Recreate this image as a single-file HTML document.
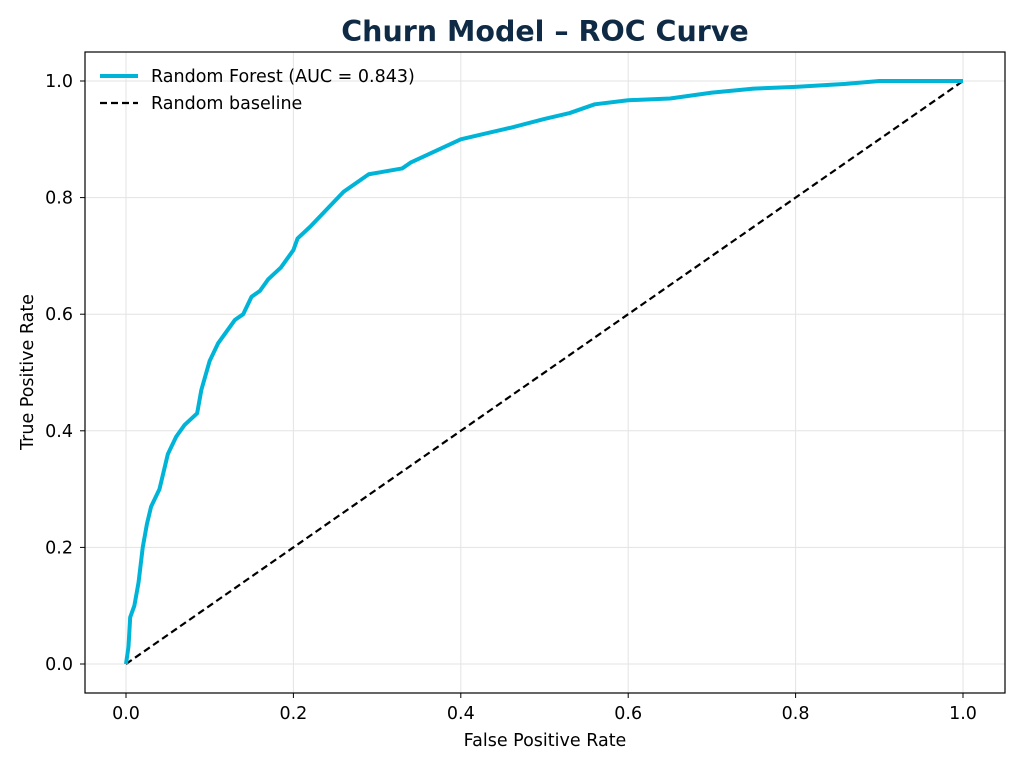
<!DOCTYPE html>
<html><head><meta charset="utf-8"><style>
body{margin:0;background:#fff;}
text{font-family:"DejaVu Sans","Liberation Sans",sans-serif;}
</style></head><body>
<svg width="1024" height="768" viewBox="0 0 1024 768" xmlns="http://www.w3.org/2000/svg">
<rect width="1024" height="768" fill="#fff"/>
<text x="545" y="41" text-anchor="middle" font-size="28.5" font-weight="bold" fill="#0f2a44">Churn Model – ROC Curve</text>
<g stroke="#e3e3e3" stroke-width="1">
<line x1="126" y1="52" x2="126" y2="693"/><line x1="293.4" y1="52" x2="293.4" y2="693"/><line x1="460.8" y1="52" x2="460.8" y2="693"/><line x1="628.2" y1="52" x2="628.2" y2="693"/><line x1="795.6" y1="52" x2="795.6" y2="693"/><line x1="963" y1="52" x2="963" y2="693"/>
<line x1="85" y1="664" x2="1005" y2="664"/><line x1="85" y1="547.4" x2="1005" y2="547.4"/><line x1="85" y1="430.8" x2="1005" y2="430.8"/><line x1="85" y1="314.2" x2="1005" y2="314.2"/><line x1="85" y1="197.6" x2="1005" y2="197.6"/><line x1="85" y1="81" x2="1005" y2="81"/>
</g>
<line x1="126" y1="664" x2="963" y2="81" stroke="#000" stroke-width="2.2" stroke-dasharray="7,4"/>
<g transform="translate(126,664) scale(837,-583)">
<polyline fill="none" stroke="#00b4d8" stroke-width="4" vector-effect="non-scaling-stroke" stroke-linejoin="round" points="0,0 0.003,0.03 0.005,0.08 0.01,0.1 0.015,0.14 0.02,0.2 0.025,0.24 0.03,0.27 0.04,0.3 0.045,0.33 0.05,0.36 0.06,0.39 0.07,0.41 0.085,0.43 0.09,0.47 0.1,0.52 0.11,0.55 0.12,0.57 0.13,0.59 0.14,0.6 0.15,0.63 0.16,0.64 0.17,0.66 0.185,0.68 0.2,0.71 0.205,0.73 0.22,0.75 0.24,0.78 0.26,0.81 0.29,0.84 0.33,0.85 0.34,0.86 0.37,0.88 0.4,0.9 0.43,0.91 0.46,0.92 0.5,0.935 0.53,0.945 0.56,0.96 0.6,0.967 0.65,0.97 0.7,0.98 0.75,0.987 0.8,0.99 0.86,0.995 0.9,1 1,1"/>
</g>
<rect x="85" y="52" width="920" height="641" fill="none" stroke="#000" stroke-width="1.2"/>
<g stroke="#000" stroke-width="1">
<line x1="126" y1="693" x2="126" y2="698"/><line x1="293.4" y1="693" x2="293.4" y2="698"/><line x1="460.8" y1="693" x2="460.8" y2="698"/><line x1="628.2" y1="693" x2="628.2" y2="698"/><line x1="795.6" y1="693" x2="795.6" y2="698"/><line x1="963" y1="693" x2="963" y2="698"/>
<line x1="80" y1="664" x2="85" y2="664"/><line x1="80" y1="547.4" x2="85" y2="547.4"/><line x1="80" y1="430.8" x2="85" y2="430.8"/><line x1="80" y1="314.2" x2="85" y2="314.2"/><line x1="80" y1="197.6" x2="85" y2="197.6"/><line x1="80" y1="81" x2="85" y2="81"/>
</g>
<g font-size="17.5" fill="#000" text-anchor="middle">
<text x="126" y="719">0.0</text><text x="293.4" y="719">0.2</text><text x="460.8" y="719">0.4</text><text x="628.2" y="719">0.6</text><text x="795.6" y="719">0.8</text><text x="963" y="719">1.0</text>
</g>
<g font-size="17.5" fill="#000" text-anchor="end">
<text x="73" y="670">0.0</text><text x="73" y="553.4">0.2</text><text x="73" y="436.8">0.4</text><text x="73" y="320.2">0.6</text><text x="73" y="203.6">0.8</text><text x="73" y="87">1.0</text>
</g>
<text x="545" y="746" text-anchor="middle" font-size="17.5">False Positive Rate</text>
<text transform="translate(33,372) rotate(-90)" text-anchor="middle" font-size="17.5">True Positive Rate</text>
<line x1="100" y1="76" x2="138" y2="76" stroke="#00b4d8" stroke-width="4"/>
<text x="151" y="82" font-size="17.5">Random Forest (AUC = 0.843)</text>
<line x1="100" y1="103" x2="138" y2="103" stroke="#000" stroke-width="2.2" stroke-dasharray="7,4"/>
<text x="151" y="109" font-size="17.5">Random baseline</text>
</svg>
</body></html>
